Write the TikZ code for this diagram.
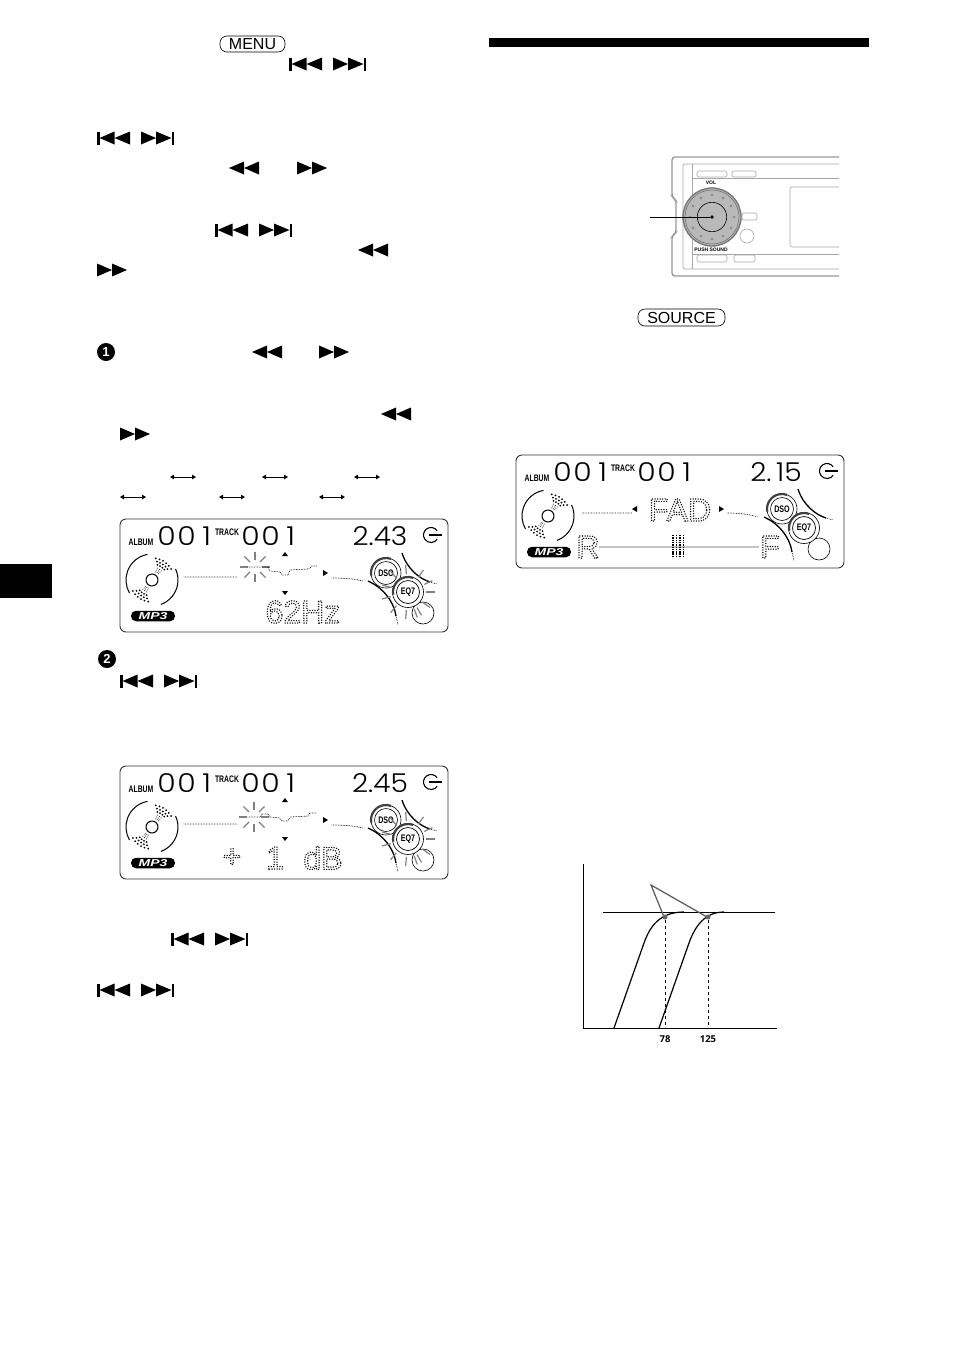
\documentclass[tikz,border=0pt]{standalone}
\usepackage{fontspec}
\setmainfont{Liberation Sans}
\newfontfamily\lcdfont{Poppins Light}
\newfontfamily\chartfont{Open Sans}
\newcommand{\dotstart}{\special{pdf:code 1 Tr 0 G 1.5 w 1 J [0 2.5] 0 d}}
\newcommand{\dotstop}{\special{pdf:code 0 Tr 0 J [] 0 d}}
\newcommand{\segd}[1]{\makebox[20pt]{\scalebox{1.15}[1]{#1}}}
\tikzset{
	dotline/.style={line width=0.9pt,line cap=round,dash pattern=on 0pt off 1.6pt},
	rayline/.style={gray,line width=1.2pt},
	caseline/.style={draw=gray!70,line width=0.6pt,rounded corners=2pt},
	pilltext/.style={inner sep=0pt,font=\fontsize{16}{16}\selectfont},
	matrixtext/.style={inner sep=0pt,font=\fontsize{32}{32}\selectfont},
	segtext/.style={inner sep=0pt,font=\lcdfont\fontsize{26}{26}\selectfont},
	tagtext/.style={inner sep=0pt,font=\bfseries\fontsize{9.5}{9.5}\selectfont},
	ringtext/.style={fill=white,circle,inner sep=0pt,minimum size=21pt,font=\bfseries\fontsize{9.5}{9.5}\selectfont},
	stepmark/.style={circle,fill=black,text=white,inner sep=0pt,minimum size=18pt,font=\bfseries\fontsize{13}{13}\selectfont},
	chartlabel/.style={inner sep=0pt,font=\chartfont\bfseries\fontsize{9.5}{9.5}\selectfont},
	pics/rewsym/.style={code={
		\fill (0,0) -- (15,-6.5) -- (15,6.5) -- cycle;
		\fill (15,0) -- (30,-6.5) -- (30,6.5) -- cycle;}},
	pics/ffwsym/.style={code={
		\fill (0,-6.5) -- (15,0) -- (0,6.5) -- cycle;
		\fill (15,-6.5) -- (30,0) -- (15,6.5) -- cycle;}},
	pics/prevnext/.style={code={
		\fill (0,-6.5) rectangle (2.6,6.5);
		\fill (2.6,0) -- (17.5,-6.5) -- (17.5,6.5) -- cycle;
		\fill (17.5,0) -- (33,-6.5) -- (33,6.5) -- cycle;
		\fill (44,-6.5) -- (59,0) -- (44,6.5) -- cycle;
		\fill (59,-6.5) -- (74.5,0) -- (59,6.5) -- cycle;
		\fill (74.5,-6.5) rectangle (77,6.5);}},
	pics/swapsym/.style={code={
		\draw[line width=0.7pt] (2,0) -- (24,0);
		\fill (0,0) -- (4,-2.4) -- (4,2.4) -- cycle;
		\fill (26,0) -- (22,-2.4) -- (22,2.4) -- cycle;}}
}
% the parts all three displays share
\newcommand{\lcdbase}[1]{
	\draw[line width=0.9pt,rounded corners=6pt,draw=black!80] (0,0) rectangle (328,113);
	\node[tagtext] (album) at (21,23) {\scalebox{0.72}[1]{ALBUM}};
	\node[tagtext] (track) at (107,13) {\scalebox{0.72}[1]{TRACK}};
	\node[segtext] (albumno) at (66.7,17) {\segd{0}\segd{0}\segd{1}};
	\node[segtext] (trackno) at (150.7,17) {\segd{0}\segd{0}\segd{1}};
	\node[segtext] (playtime) at (260,17) {\scalebox{1.08}[1]{#1}};
	% clock mark
	\draw[line width=1.1pt] (311,16) ++(35:7.5pt) arc (35:325:7.5pt);
	\draw[line width=1.1pt] (309,16) -- (322,16);
	% disc
	\draw[line width=1pt] (32,61) ++(-70:26pt) arc (-70:25:26pt);
	\draw[line width=1pt] (32,61) ++(100:26pt) arc (100:210:26pt);
	\draw[line width=1pt] (32,61) circle (6pt);
	\foreach \r in {9,11,13}
		\foreach \a in {45,55,65}{
			\fill (32,61) ++(\a:\r pt) circle (0.5pt);
			\fill (32,61) ++(\a+180:\r pt) circle (0.5pt);
		}
	\foreach \r/\s in {16/4,19/5,22/6}
		\foreach \a in {1,...,\s}{
			\fill (32,61) ++({55+(\a-(\s+1)/2)*10}:\r pt) circle (1pt);
			\fill (32,61) ++({235+(\a-(\s+1)/2)*10}:\r pt) circle (1pt);
		}
	\node[fill=black,rounded corners=5pt,minimum width=44pt,minimum height=10.5pt,inner sep=0pt,
		text=white,font=\bfseries\itshape\fontsize{10}{10}\selectfont] (mpmark) at (33,97) {\scalebox{1.4}[1]{MP3}};
	% rings on the right
	\draw[line width=0.6pt] (266,54) circle (15pt);
	\draw[line width=2.2pt,black!75] (266,54) ++(190:15pt) arc (190:70:15pt);
	\draw[line width=0.6pt] (266,54) circle (11.5pt);
	\node[ringtext] (dso) at (266,54) {\scalebox{0.75}[1]{DSO}};
	\draw[line width=1.3pt] (282,34) .. controls (287,50) and (300,60) .. (310,63);
	\draw[dotline] (310,63) -- (317,65);
	\draw[line width=1.3pt] (248,62) .. controls (262,68) and (274,82) .. (276,97);
	\draw[dotline] (276,97) -- (278,106);
	\draw[line width=0.6pt] (303,94) circle (11pt);
	\draw[line width=0.6pt,fill=white] (288,73) circle (15.5pt);
	\draw[line width=2.2pt,black!75] (288,73) ++(190:15pt) arc (190:70:15pt);
	\draw[line width=0.7pt] (288,73) circle (11.5pt);
	\node[ringtext,minimum size=20pt] (eqmark) at (288,73) {\scalebox{0.75}[1]{EQ7}};
}
% equaliser scale: triangles, dotted legs and the lit band
\newcommand{\lcdscale}[2]{
	\fill (165,#1-3) -- (168,#1+1) -- (162,#1+1) -- cycle;
	\fill (165,#2+3) -- (168,#2-1) -- (162,#2-1) -- cycle;
	\fill (208,54) -- (203,51) -- (203,57) -- cycle;
	\draw[dotline] (64,58) -- (117,58);
	\draw[dotline] (212,59) .. controls (225,59) and (235,60) .. (243,62);
}
\newcommand{\eqrays}{
	\foreach \a in {-70,-35,0,25,55,95,130,165,195,230,265,300}
		\draw[rayline] (288,73) ++(\a:18pt) -- ++(\a:9pt);
}

\begin{document}
\begin{tikzpicture}[x=1pt,y=-1pt]
	\useasboundingbox (0,0) rectangle (954,1352);

	% left page, keys
	\node[draw,rounded corners=7pt,minimum width=65pt,minimum height=16pt,inner sep=0pt,line width=0.6pt,pilltext] (menukey) at (252.5,44) {MENU};
	\pic at (289,64) {prevnext};
	\pic at (97,138) {prevnext};
	\pic at (229,168) {rewsym};
	\pic at (297,168) {ffwsym};
	\pic at (215,230) {prevnext};
	\pic at (358,250) {rewsym};
	\pic at (97,270) {ffwsym};
	\node[stepmark] (stepone) at (106,352) {1};
	\pic at (252,352) {rewsym};
	\pic at (319,352) {ffwsym};
	\pic at (381,414) {rewsym};
	\pic at (120,434) {ffwsym};
	\foreach \x in {170,262,354} \pic at (\x,477) {swapsym};
	\foreach \x in {120,219,319} \pic at (\x,497) {swapsym};
	\fill (0,564) rectangle (52,598);

	% display with 62Hz
	\begin{scope}[shift={(120,519)}]
		\lcdbase{2.43}
		\lcdscale{36}{73}
		\foreach \a in {0,45,...,315} \draw[rayline] (135,48) ++(\a:7pt) -- ++(\a:8pt);
		\draw[dotline] (128,48) -- (148,48) -- (150,52) -- (160,53) -- (162,56) -- (168,56) -- (170,51) -- (188,50) -- (193,47) -- (197,47);
		\eqrays
		\node[matrixtext] (bandtext) at (183,93) {\dotstart 62Hz\dotstop};
	\end{scope}

	\node[stepmark] (steptwo) at (107,659) {2};
	\pic at (120,681) {prevnext};

	% display with level
	\begin{scope}[shift={(120,766)}]
		\lcdbase{2.45}
		\lcdscale{35}{72}
		\foreach \a in {0,45,...,315} \draw[rayline] (134,51) ++(\a:7pt) -- ++(\a:8pt);
		\draw[dotline] (128,51) -- (140,51) -- (142,48) -- (148,48) -- (150,51) -- (160,52) -- (162,55) -- (168,55) -- (170,51) -- (188,50) -- (190,47) -- (197,47);
		\eqrays
		\node[matrixtext] (plustext) at (112,92) {\dotstart +\dotstop};
		\node[matrixtext] (leveltext) at (155,92) {\dotstart 1\dotstop};
		\node[matrixtext] (unittext) at (203,92) {\dotstart dB\dotstop};
	\end{scope}

	\pic at (171,939) {prevnext};
	\pic at (97,990) {prevnext};

	% right page
	\fill (489,38) rectangle (869,47);

	% front panel
	\begin{scope}
		\clip (640,150) rectangle (839,285);
		\draw[gray!80,line width=1.4pt,rounded corners=3pt] (860,157) -- (672,157) -- (672,197) -- (676,200) -- (676,233) -- (672,236) -- (672,276) -- (860,276);
		\draw[caseline,line width=0.7pt] (860,164) -- (683,164) -- (683,269) -- (860,269);
		\draw[caseline] (692,164) -- (692,269);
		\draw[caseline] (692,178) -- (860,178);
		\draw[caseline] (692,254) -- (860,254);
		\draw[caseline] (697,171) rectangle (727,177);
		\draw[caseline] (732,171) rectangle (756,177);
		\draw[caseline] (697,255) rectangle (727,262);
		\draw[caseline] (734,255) rectangle (755,262);
		\draw[caseline] (860,187) -- (790,187) -- (790,247) -- (860,247);
		\draw[caseline] (742,213) rectangle (757,220);
		\draw[caseline] (747,236) circle (7pt);
	\end{scope}
	\draw[fill=gray!55,draw=gray!90!black,line width=1.3pt] (712,217) circle (29pt);
	\draw[draw=gray!80!black,line width=0.5pt] (712,217) circle (27pt);
	\foreach \a in {0,30,...,330} \draw[fill=white,draw=gray!70!black,line width=0.4pt] (712,217) ++(\a:22pt) circle (1.1pt);
	\draw[line width=0.6pt] (712,217) circle (14.7pt);
	\coordinate (leaderfree) at (650,217);
	\node[circle,fill=black,inner sep=0pt,minimum size=3.6pt] (dialcentre) at (712,217) {};
	\draw[line width=1pt] (leaderfree) -- (dialcentre);
	\node[inner sep=0pt,font=\bfseries\fontsize{5}{5}\selectfont] (vollabel) at (711,183) {VOL};
	\node[inner sep=0pt,font=\bfseries\fontsize{5}{5}\selectfont] (pushlabel) at (711,250) {PUSH SOUND};

	\node[draw,rounded corners=7pt,minimum width=87pt,minimum height=17pt,inner sep=0pt,line width=0.6pt,pilltext] (sourcekey) at (681.5,317.5) {SOURCE};

	% display with fader
	\begin{scope}[shift={(516,455)}]
		\lcdbase{2.\,15}
		\fill (116,54) -- (121,51) -- (121,57) -- cycle;
		\fill (208,54) -- (203,51) -- (203,57) -- cycle;
		\draw[dotline] (66,58) -- (116,58);
		\draw[dotline] (211,58) .. controls (222,58) and (233,59) .. (242,62);
		\node[matrixtext] (fadtext) at (164,55) {\dotstart FAD\dotstop};
		\node[matrixtext] (reartext) at (72,92) {\dotstart R\dotstop};
		\node[matrixtext] (fronttext) at (254,92) {\dotstart F\dotstop};
		\draw[line width=1.1pt,line cap=round,dash pattern=on 0pt off 2pt] (84,92) -- (243,92);
		\foreach \x in {157,160.5,164,167.5} \draw[line width=1.3pt,dash pattern=on 1.4pt off 0.9pt] (\x,80) -- (\x,103);
	\end{scope}

	% response chart
	\coordinate (chartfoot) at (583,1028);
	\draw[line width=0.8pt] (583,864) -- (chartfoot) -- (777,1028);
	\draw[line width=0.7pt] (603,912) -- (775,912);
	\draw[gray!70!black,line width=1.2pt] (664,917) -- (651,885) -- (707,917);
	\draw[line width=1.2pt] (614,1028) -- (644,943) .. controls (650,926) and (660,912) .. (684,912);
	\draw[line width=1.2pt] (659,1028) -- (689,943) .. controls (695,926) and (705,912) .. (724,912);
	\node[circle,fill=gray!80!black,inner sep=0pt,minimum size=5pt] (lowdot) at (665,917) {};
	\node[circle,fill=gray!80!black,inner sep=0pt,minimum size=5pt] (highdot) at (708,917) {};
	\node[chartlabel] (lowmark) at (665,1039) {78};
	\node[chartlabel] (highmark) at (708,1039) {125};
	\coordinate (lowfoot) at (665,1028);
	\coordinate (highfoot) at (708,1028);
	\draw[dashed,line width=0.5pt] (lowdot) -- (lowfoot);
	\draw[dashed,line width=0.5pt] (highdot) -- (highfoot);
\end{tikzpicture}
\end{document}
